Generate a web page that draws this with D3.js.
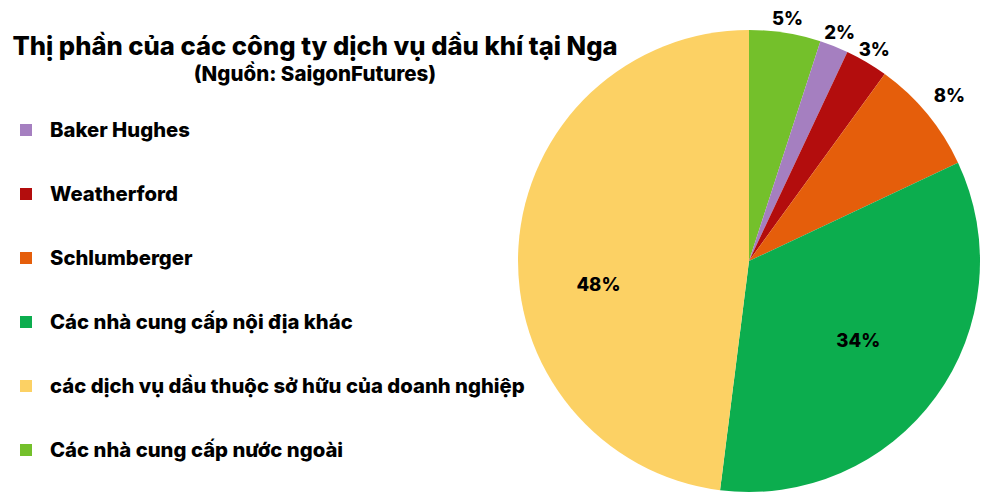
<!DOCTYPE html>
<html>
<head>
<meta charset="utf-8">
<script src="https://cdn.jsdelivr.net/npm/d3@7"></script>
<style>
  body { margin: 0; background: #fff; }
  text { font-family: Inter, "Noto Sans", sans-serif; font-weight: 800; fill: #000; }
</style>
</head>
<body>
<div id="vis-container"></div>
<script>
// data
const categories = ["Baker Hughes", "Weatherford", "Schlumberger",
    "Các nhà cung cấp nội địa khác",
    "các dịch vụ dầu thuộc sở hữu của doanh nghiệp",
    "Các nhà cung cấp nước ngoài"];
const shares = [2, 3, 8, 34, 48, 5];
const colors = ["#a57fc0", "#b30d0d", "#e55e0b", "#0cad4e", "#fcd164", "#74c02b"];
// pie draws starting at 12 o'clock with this slice order
const pieOrder = [5, 0, 1, 2, 3, 4];

const width = 1000;
const height = 498;

const svg = d3.select("#vis-container")
    .append("svg")
    .attr("width", width)
    .attr("height", height);

// title
svg.append("text")
    .attr("x", 315).attr("y", 55)
    .attr("text-anchor", "middle")
    .attr("font-size", "25.6px")
    .text("Thị phần của các công ty dịch vụ dầu khí tại Nga");
svg.append("text")
    .attr("x", 315).attr("y", 81)
    .attr("text-anchor", "middle")
    .attr("font-size", "20.5px")
    .text("(Nguồn: SaigonFutures)");

// legend
const legendY = d3.scalePoint()
    .domain(categories)
    .range([130, 450]);

const legend = svg.selectAll(".legend")
    .data(categories)
    .enter()
    .append("g")
    .attr("class", "legend")
    .attr("transform", (d) => `translate(0,${legendY(d)})`);

legend.append("rect")
    .attr("x", 20).attr("y", -6)
    .attr("width", 12).attr("height", 12)
    .style("fill", (d, i) => colors[i]);

legend.append("text")
    .attr("x", 50).attr("y", 7)
    .attr("font-size", "20.3px")
    .text((d) => d);

// pie
const cx = 749, cy = 261, radius = 231;

const pie = d3.pie()
    .sort(null)
    .value((i) => shares[i]);

const arcs = pie(pieOrder);

const arc = d3.arc().innerRadius(0).outerRadius(radius);

const g = svg.append("g").attr("transform", `translate(${cx},${cy})`);

g.selectAll("path")
    .data(arcs)
    .enter()
    .append("path")
    .attr("d", arc)
    .style("fill", (d) => colors[d.data]);

// labels: big slices inside, small ones outside
function labelPos(d) {
    const v = shares[d.data];
    let r = v > 10 ? radius * 0.585 : radius + 15 + (v > 6 ? 14 : 0);
    let a = (d.startAngle + d.endAngle) / 2;
    // the big left slice label sits a little lower than its middle
    if (d.data === 4) { a -= 0.22; r = radius * 0.66; }
    return [r * Math.sin(a), -r * Math.cos(a)];
}

g.selectAll(".lbl")
    .data(arcs)
    .enter()
    .append("text")
    .attr("class", "lbl")
    .attr("text-anchor", "middle")
    .attr("dy", "0.35em")
    .attr("font-size", "18.5px")
    .attr("transform", (d) => `translate(${labelPos(d)})`)
    .text((d) => shares[d.data] + "%");
</script>
</body>
</html>
